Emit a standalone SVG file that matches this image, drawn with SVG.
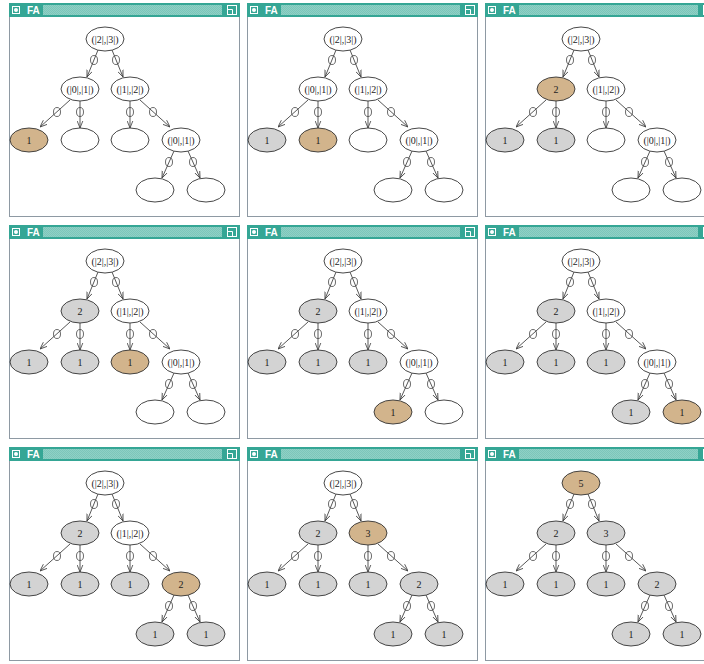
<svg xmlns="http://www.w3.org/2000/svg" xmlns:xlink="http://www.w3.org/1999/xlink" width="704" height="664" viewBox="0 0 704 664">
<style>
.frame{fill:#fff;stroke:#8e99a3;stroke-width:1}
.tb{fill:#35a695}
.hatch{fill:url(#chk)}
.ic{fill:none;stroke:#fff;stroke-width:1}
.ttl{font-family:"Liberation Sans",Arial,sans-serif;font-size:10px;font-weight:bold;fill:#fff}
.e{stroke:#444;stroke-width:0.9;fill:none;marker-end:url(#arr)}
.lbl{fill:none;stroke:#444;stroke-width:0.8}
.n{stroke:#333;stroke-width:0.9}
.w{fill:#fff}
.t{fill:#d2b48c}
.g{fill:#d3d3d3}
.nt{font-family:"Liberation Serif","Times New Roman",serif;font-size:10px;fill:#222;text-anchor:middle}
</style>
<defs>
<pattern id="chk" width="2" height="2" patternUnits="userSpaceOnUse"><rect width="2" height="2" fill="#8fd0c5"/><rect width="1" height="1" fill="#7cc6ba"/><rect x="1" y="1" width="1" height="1" fill="#7cc6ba"/></pattern>
<marker id="arr" viewBox="0 0 10 10" refX="10" refY="5" markerWidth="7" markerHeight="7" markerUnits="userSpaceOnUse" orient="auto"><path d="M0,1 L10,5 L0,9" fill="none" stroke="#444" stroke-width="1.2"/></marker>
<g id="chrome">
<rect class="frame" x="0.5" y="0.5" width="230" height="213"/>
<rect class="tb" x="0" y="0" width="231" height="14"/>
<rect class="ic" x="3.5" y="3.5" width="7" height="7"/>
<circle cx="7" cy="7" r="2" fill="#fff"/>
<text class="ttl" x="18" y="11">FA</text>
<rect class="hatch" x="34" y="2" width="179" height="10"/>
<rect class="ic" x="218.5" y="2.5" width="9" height="9"/>
<path class="ic" d="M218.5,6.5 H223.5 V11.5"/>
</g>
</defs>

<!-- Panel 1 -->
<g id="panel1" transform="translate(9,3)">
<use xlink:href="#chrome" href="#chrome"/>
<g id="p1-connectors">
<line class="e" x1="89" y1="47" x2="78" y2="74"/><ellipse class="lbl" cx="85" cy="57" rx="3.5" ry="4.5"/>
<line class="e" x1="103" y1="47" x2="114" y2="74"/><ellipse class="lbl" cx="107" cy="57" rx="3.5" ry="4.5"/>
<line class="e" x1="61" y1="97" x2="31" y2="124"/><ellipse class="lbl" cx="48" cy="109" rx="3.5" ry="4.5"/>
<line class="e" x1="71" y1="98" x2="71" y2="125"/><ellipse class="lbl" cx="71" cy="109" rx="3.5" ry="4.5"/>
<line class="e" x1="121" y1="98" x2="121" y2="125"/><ellipse class="lbl" cx="121" cy="109" rx="3.5" ry="4.5"/>
<line class="e" x1="131" y1="97" x2="161" y2="124"/><ellipse class="lbl" cx="144" cy="109" rx="3.5" ry="4.5"/>
<line class="e" x1="165" y1="148" x2="153" y2="175"/><ellipse class="lbl" cx="160" cy="159" rx="3.5" ry="4.5"/>
<line class="e" x1="179" y1="148" x2="191" y2="175"/><ellipse class="lbl" cx="184" cy="159" rx="3.5" ry="4.5"/>
</g>
<g id="p1-R"><ellipse class="n w" cx="96" cy="36" rx="19" ry="12"/><text class="nt" x="96" y="39.5">(|2|,|3|)</text></g>
<g id="p1-A"><ellipse class="n w" cx="71" cy="86" rx="19" ry="12"/><text class="nt" x="71" y="89.5">(|0|,|1|)</text></g>
<g id="p1-B"><ellipse class="n w" cx="121" cy="86" rx="19" ry="12"/><text class="nt" x="121" y="89.5">(|1|,|2|)</text></g>
<g id="p1-a1"><ellipse class="n t" cx="20" cy="137" rx="19" ry="12"/><text class="nt" x="20" y="140.5">1</text></g>
<g id="p1-a2"><ellipse class="n w" cx="71" cy="137" rx="19" ry="12"/></g>
<g id="p1-b1"><ellipse class="n w" cx="121" cy="137" rx="19" ry="12"/></g>
<g id="p1-b2"><ellipse class="n w" cx="172" cy="137" rx="19" ry="12"/><text class="nt" x="172" y="140.5">(|0|,|1|)</text></g>
<g id="p1-c1"><ellipse class="n w" cx="146" cy="187" rx="19" ry="12"/></g>
<g id="p1-c2"><ellipse class="n w" cx="197" cy="187" rx="19" ry="12"/></g>
</g>

<!-- Panel 2 -->
<g id="panel2" transform="translate(247,3)">
<use xlink:href="#chrome" href="#chrome"/>
<g id="p2-connectors">
<line class="e" x1="89" y1="47" x2="78" y2="74"/><ellipse class="lbl" cx="85" cy="57" rx="3.5" ry="4.5"/>
<line class="e" x1="103" y1="47" x2="114" y2="74"/><ellipse class="lbl" cx="107" cy="57" rx="3.5" ry="4.5"/>
<line class="e" x1="61" y1="97" x2="31" y2="124"/><ellipse class="lbl" cx="48" cy="109" rx="3.5" ry="4.5"/>
<line class="e" x1="71" y1="98" x2="71" y2="125"/><ellipse class="lbl" cx="71" cy="109" rx="3.5" ry="4.5"/>
<line class="e" x1="121" y1="98" x2="121" y2="125"/><ellipse class="lbl" cx="121" cy="109" rx="3.5" ry="4.5"/>
<line class="e" x1="131" y1="97" x2="161" y2="124"/><ellipse class="lbl" cx="144" cy="109" rx="3.5" ry="4.5"/>
<line class="e" x1="165" y1="148" x2="153" y2="175"/><ellipse class="lbl" cx="160" cy="159" rx="3.5" ry="4.5"/>
<line class="e" x1="179" y1="148" x2="191" y2="175"/><ellipse class="lbl" cx="184" cy="159" rx="3.5" ry="4.5"/>
</g>
<g id="p2-R"><ellipse class="n w" cx="96" cy="36" rx="19" ry="12"/><text class="nt" x="96" y="39.5">(|2|,|3|)</text></g>
<g id="p2-A"><ellipse class="n w" cx="71" cy="86" rx="19" ry="12"/><text class="nt" x="71" y="89.5">(|0|,|1|)</text></g>
<g id="p2-B"><ellipse class="n w" cx="121" cy="86" rx="19" ry="12"/><text class="nt" x="121" y="89.5">(|1|,|2|)</text></g>
<g id="p2-a1"><ellipse class="n g" cx="20" cy="137" rx="19" ry="12"/><text class="nt" x="20" y="140.5">1</text></g>
<g id="p2-a2"><ellipse class="n t" cx="71" cy="137" rx="19" ry="12"/><text class="nt" x="71" y="140.5">1</text></g>
<g id="p2-b1"><ellipse class="n w" cx="121" cy="137" rx="19" ry="12"/></g>
<g id="p2-b2"><ellipse class="n w" cx="172" cy="137" rx="19" ry="12"/><text class="nt" x="172" y="140.5">(|0|,|1|)</text></g>
<g id="p2-c1"><ellipse class="n w" cx="146" cy="187" rx="19" ry="12"/></g>
<g id="p2-c2"><ellipse class="n w" cx="197" cy="187" rx="19" ry="12"/></g>
</g>

<!-- Panel 3 -->
<g id="panel3" transform="translate(485,3)">
<use xlink:href="#chrome" href="#chrome"/>
<g id="p3-connectors">
<line class="e" x1="89" y1="47" x2="78" y2="74"/><ellipse class="lbl" cx="85" cy="57" rx="3.5" ry="4.5"/>
<line class="e" x1="103" y1="47" x2="114" y2="74"/><ellipse class="lbl" cx="107" cy="57" rx="3.5" ry="4.5"/>
<line class="e" x1="61" y1="97" x2="31" y2="124"/><ellipse class="lbl" cx="48" cy="109" rx="3.5" ry="4.5"/>
<line class="e" x1="71" y1="98" x2="71" y2="125"/><ellipse class="lbl" cx="71" cy="109" rx="3.5" ry="4.5"/>
<line class="e" x1="121" y1="98" x2="121" y2="125"/><ellipse class="lbl" cx="121" cy="109" rx="3.5" ry="4.5"/>
<line class="e" x1="131" y1="97" x2="161" y2="124"/><ellipse class="lbl" cx="144" cy="109" rx="3.5" ry="4.5"/>
<line class="e" x1="165" y1="148" x2="153" y2="175"/><ellipse class="lbl" cx="160" cy="159" rx="3.5" ry="4.5"/>
<line class="e" x1="179" y1="148" x2="191" y2="175"/><ellipse class="lbl" cx="184" cy="159" rx="3.5" ry="4.5"/>
</g>
<g id="p3-R"><ellipse class="n w" cx="96" cy="36" rx="19" ry="12"/><text class="nt" x="96" y="39.5">(|2|,|3|)</text></g>
<g id="p3-A"><ellipse class="n t" cx="71" cy="86" rx="19" ry="12"/><text class="nt" x="71" y="89.5">2</text></g>
<g id="p3-B"><ellipse class="n w" cx="121" cy="86" rx="19" ry="12"/><text class="nt" x="121" y="89.5">(|1|,|2|)</text></g>
<g id="p3-a1"><ellipse class="n g" cx="20" cy="137" rx="19" ry="12"/><text class="nt" x="20" y="140.5">1</text></g>
<g id="p3-a2"><ellipse class="n g" cx="71" cy="137" rx="19" ry="12"/><text class="nt" x="71" y="140.5">1</text></g>
<g id="p3-b1"><ellipse class="n w" cx="121" cy="137" rx="19" ry="12"/></g>
<g id="p3-b2"><ellipse class="n w" cx="172" cy="137" rx="19" ry="12"/><text class="nt" x="172" y="140.5">(|0|,|1|)</text></g>
<g id="p3-c1"><ellipse class="n w" cx="146" cy="187" rx="19" ry="12"/></g>
<g id="p3-c2"><ellipse class="n w" cx="197" cy="187" rx="19" ry="12"/></g>
</g>

<!-- Panel 4 -->
<g id="panel4" transform="translate(9,225)">
<use xlink:href="#chrome" href="#chrome"/>
<g id="p4-connectors">
<line class="e" x1="89" y1="47" x2="78" y2="74"/><ellipse class="lbl" cx="85" cy="57" rx="3.5" ry="4.5"/>
<line class="e" x1="103" y1="47" x2="114" y2="74"/><ellipse class="lbl" cx="107" cy="57" rx="3.5" ry="4.5"/>
<line class="e" x1="61" y1="97" x2="31" y2="124"/><ellipse class="lbl" cx="48" cy="109" rx="3.5" ry="4.5"/>
<line class="e" x1="71" y1="98" x2="71" y2="125"/><ellipse class="lbl" cx="71" cy="109" rx="3.5" ry="4.5"/>
<line class="e" x1="121" y1="98" x2="121" y2="125"/><ellipse class="lbl" cx="121" cy="109" rx="3.5" ry="4.5"/>
<line class="e" x1="131" y1="97" x2="161" y2="124"/><ellipse class="lbl" cx="144" cy="109" rx="3.5" ry="4.5"/>
<line class="e" x1="165" y1="148" x2="153" y2="175"/><ellipse class="lbl" cx="160" cy="159" rx="3.5" ry="4.5"/>
<line class="e" x1="179" y1="148" x2="191" y2="175"/><ellipse class="lbl" cx="184" cy="159" rx="3.5" ry="4.5"/>
</g>
<g id="p4-R"><ellipse class="n w" cx="96" cy="36" rx="19" ry="12"/><text class="nt" x="96" y="39.5">(|2|,|3|)</text></g>
<g id="p4-A"><ellipse class="n g" cx="71" cy="86" rx="19" ry="12"/><text class="nt" x="71" y="89.5">2</text></g>
<g id="p4-B"><ellipse class="n w" cx="121" cy="86" rx="19" ry="12"/><text class="nt" x="121" y="89.5">(|1|,|2|)</text></g>
<g id="p4-a1"><ellipse class="n g" cx="20" cy="137" rx="19" ry="12"/><text class="nt" x="20" y="140.5">1</text></g>
<g id="p4-a2"><ellipse class="n g" cx="71" cy="137" rx="19" ry="12"/><text class="nt" x="71" y="140.5">1</text></g>
<g id="p4-b1"><ellipse class="n t" cx="121" cy="137" rx="19" ry="12"/><text class="nt" x="121" y="140.5">1</text></g>
<g id="p4-b2"><ellipse class="n w" cx="172" cy="137" rx="19" ry="12"/><text class="nt" x="172" y="140.5">(|0|,|1|)</text></g>
<g id="p4-c1"><ellipse class="n w" cx="146" cy="187" rx="19" ry="12"/></g>
<g id="p4-c2"><ellipse class="n w" cx="197" cy="187" rx="19" ry="12"/></g>
</g>

<!-- Panel 5 -->
<g id="panel5" transform="translate(247,225)">
<use xlink:href="#chrome" href="#chrome"/>
<g id="p5-connectors">
<line class="e" x1="89" y1="47" x2="78" y2="74"/><ellipse class="lbl" cx="85" cy="57" rx="3.5" ry="4.5"/>
<line class="e" x1="103" y1="47" x2="114" y2="74"/><ellipse class="lbl" cx="107" cy="57" rx="3.5" ry="4.5"/>
<line class="e" x1="61" y1="97" x2="31" y2="124"/><ellipse class="lbl" cx="48" cy="109" rx="3.5" ry="4.5"/>
<line class="e" x1="71" y1="98" x2="71" y2="125"/><ellipse class="lbl" cx="71" cy="109" rx="3.5" ry="4.5"/>
<line class="e" x1="121" y1="98" x2="121" y2="125"/><ellipse class="lbl" cx="121" cy="109" rx="3.5" ry="4.5"/>
<line class="e" x1="131" y1="97" x2="161" y2="124"/><ellipse class="lbl" cx="144" cy="109" rx="3.5" ry="4.5"/>
<line class="e" x1="165" y1="148" x2="153" y2="175"/><ellipse class="lbl" cx="160" cy="159" rx="3.5" ry="4.5"/>
<line class="e" x1="179" y1="148" x2="191" y2="175"/><ellipse class="lbl" cx="184" cy="159" rx="3.5" ry="4.5"/>
</g>
<g id="p5-R"><ellipse class="n w" cx="96" cy="36" rx="19" ry="12"/><text class="nt" x="96" y="39.5">(|2|,|3|)</text></g>
<g id="p5-A"><ellipse class="n g" cx="71" cy="86" rx="19" ry="12"/><text class="nt" x="71" y="89.5">2</text></g>
<g id="p5-B"><ellipse class="n w" cx="121" cy="86" rx="19" ry="12"/><text class="nt" x="121" y="89.5">(|1|,|2|)</text></g>
<g id="p5-a1"><ellipse class="n g" cx="20" cy="137" rx="19" ry="12"/><text class="nt" x="20" y="140.5">1</text></g>
<g id="p5-a2"><ellipse class="n g" cx="71" cy="137" rx="19" ry="12"/><text class="nt" x="71" y="140.5">1</text></g>
<g id="p5-b1"><ellipse class="n g" cx="121" cy="137" rx="19" ry="12"/><text class="nt" x="121" y="140.5">1</text></g>
<g id="p5-b2"><ellipse class="n w" cx="172" cy="137" rx="19" ry="12"/><text class="nt" x="172" y="140.5">(|0|,|1|)</text></g>
<g id="p5-c1"><ellipse class="n t" cx="146" cy="187" rx="19" ry="12"/><text class="nt" x="146" y="190.5">1</text></g>
<g id="p5-c2"><ellipse class="n w" cx="197" cy="187" rx="19" ry="12"/></g>
</g>

<!-- Panel 6 -->
<g id="panel6" transform="translate(485,225)">
<use xlink:href="#chrome" href="#chrome"/>
<g id="p6-connectors">
<line class="e" x1="89" y1="47" x2="78" y2="74"/><ellipse class="lbl" cx="85" cy="57" rx="3.5" ry="4.5"/>
<line class="e" x1="103" y1="47" x2="114" y2="74"/><ellipse class="lbl" cx="107" cy="57" rx="3.5" ry="4.5"/>
<line class="e" x1="61" y1="97" x2="31" y2="124"/><ellipse class="lbl" cx="48" cy="109" rx="3.5" ry="4.5"/>
<line class="e" x1="71" y1="98" x2="71" y2="125"/><ellipse class="lbl" cx="71" cy="109" rx="3.5" ry="4.5"/>
<line class="e" x1="121" y1="98" x2="121" y2="125"/><ellipse class="lbl" cx="121" cy="109" rx="3.5" ry="4.5"/>
<line class="e" x1="131" y1="97" x2="161" y2="124"/><ellipse class="lbl" cx="144" cy="109" rx="3.5" ry="4.5"/>
<line class="e" x1="165" y1="148" x2="153" y2="175"/><ellipse class="lbl" cx="160" cy="159" rx="3.5" ry="4.5"/>
<line class="e" x1="179" y1="148" x2="191" y2="175"/><ellipse class="lbl" cx="184" cy="159" rx="3.5" ry="4.5"/>
</g>
<g id="p6-R"><ellipse class="n w" cx="96" cy="36" rx="19" ry="12"/><text class="nt" x="96" y="39.5">(|2|,|3|)</text></g>
<g id="p6-A"><ellipse class="n g" cx="71" cy="86" rx="19" ry="12"/><text class="nt" x="71" y="89.5">2</text></g>
<g id="p6-B"><ellipse class="n w" cx="121" cy="86" rx="19" ry="12"/><text class="nt" x="121" y="89.5">(|1|,|2|)</text></g>
<g id="p6-a1"><ellipse class="n g" cx="20" cy="137" rx="19" ry="12"/><text class="nt" x="20" y="140.5">1</text></g>
<g id="p6-a2"><ellipse class="n g" cx="71" cy="137" rx="19" ry="12"/><text class="nt" x="71" y="140.5">1</text></g>
<g id="p6-b1"><ellipse class="n g" cx="121" cy="137" rx="19" ry="12"/><text class="nt" x="121" y="140.5">1</text></g>
<g id="p6-b2"><ellipse class="n w" cx="172" cy="137" rx="19" ry="12"/><text class="nt" x="172" y="140.5">(|0|,|1|)</text></g>
<g id="p6-c1"><ellipse class="n g" cx="146" cy="187" rx="19" ry="12"/><text class="nt" x="146" y="190.5">1</text></g>
<g id="p6-c2"><ellipse class="n t" cx="197" cy="187" rx="19" ry="12"/><text class="nt" x="197" y="190.5">1</text></g>
</g>

<!-- Panel 7 -->
<g id="panel7" transform="translate(9,447)">
<use xlink:href="#chrome" href="#chrome"/>
<g id="p7-connectors">
<line class="e" x1="89" y1="47" x2="78" y2="74"/><ellipse class="lbl" cx="85" cy="57" rx="3.5" ry="4.5"/>
<line class="e" x1="103" y1="47" x2="114" y2="74"/><ellipse class="lbl" cx="107" cy="57" rx="3.5" ry="4.5"/>
<line class="e" x1="61" y1="97" x2="31" y2="124"/><ellipse class="lbl" cx="48" cy="109" rx="3.5" ry="4.5"/>
<line class="e" x1="71" y1="98" x2="71" y2="125"/><ellipse class="lbl" cx="71" cy="109" rx="3.5" ry="4.5"/>
<line class="e" x1="121" y1="98" x2="121" y2="125"/><ellipse class="lbl" cx="121" cy="109" rx="3.5" ry="4.5"/>
<line class="e" x1="131" y1="97" x2="161" y2="124"/><ellipse class="lbl" cx="144" cy="109" rx="3.5" ry="4.5"/>
<line class="e" x1="165" y1="148" x2="153" y2="175"/><ellipse class="lbl" cx="160" cy="159" rx="3.5" ry="4.5"/>
<line class="e" x1="179" y1="148" x2="191" y2="175"/><ellipse class="lbl" cx="184" cy="159" rx="3.5" ry="4.5"/>
</g>
<g id="p7-R"><ellipse class="n w" cx="96" cy="36" rx="19" ry="12"/><text class="nt" x="96" y="39.5">(|2|,|3|)</text></g>
<g id="p7-A"><ellipse class="n g" cx="71" cy="86" rx="19" ry="12"/><text class="nt" x="71" y="89.5">2</text></g>
<g id="p7-B"><ellipse class="n w" cx="121" cy="86" rx="19" ry="12"/><text class="nt" x="121" y="89.5">(|1|,|2|)</text></g>
<g id="p7-a1"><ellipse class="n g" cx="20" cy="137" rx="19" ry="12"/><text class="nt" x="20" y="140.5">1</text></g>
<g id="p7-a2"><ellipse class="n g" cx="71" cy="137" rx="19" ry="12"/><text class="nt" x="71" y="140.5">1</text></g>
<g id="p7-b1"><ellipse class="n g" cx="121" cy="137" rx="19" ry="12"/><text class="nt" x="121" y="140.5">1</text></g>
<g id="p7-b2"><ellipse class="n t" cx="172" cy="137" rx="19" ry="12"/><text class="nt" x="172" y="140.5">2</text></g>
<g id="p7-c1"><ellipse class="n g" cx="146" cy="187" rx="19" ry="12"/><text class="nt" x="146" y="190.5">1</text></g>
<g id="p7-c2"><ellipse class="n g" cx="197" cy="187" rx="19" ry="12"/><text class="nt" x="197" y="190.5">1</text></g>
</g>

<!-- Panel 8 -->
<g id="panel8" transform="translate(247,447)">
<use xlink:href="#chrome" href="#chrome"/>
<g id="p8-connectors">
<line class="e" x1="89" y1="47" x2="78" y2="74"/><ellipse class="lbl" cx="85" cy="57" rx="3.5" ry="4.5"/>
<line class="e" x1="103" y1="47" x2="114" y2="74"/><ellipse class="lbl" cx="107" cy="57" rx="3.5" ry="4.5"/>
<line class="e" x1="61" y1="97" x2="31" y2="124"/><ellipse class="lbl" cx="48" cy="109" rx="3.5" ry="4.5"/>
<line class="e" x1="71" y1="98" x2="71" y2="125"/><ellipse class="lbl" cx="71" cy="109" rx="3.5" ry="4.5"/>
<line class="e" x1="121" y1="98" x2="121" y2="125"/><ellipse class="lbl" cx="121" cy="109" rx="3.5" ry="4.5"/>
<line class="e" x1="131" y1="97" x2="161" y2="124"/><ellipse class="lbl" cx="144" cy="109" rx="3.5" ry="4.5"/>
<line class="e" x1="165" y1="148" x2="153" y2="175"/><ellipse class="lbl" cx="160" cy="159" rx="3.5" ry="4.5"/>
<line class="e" x1="179" y1="148" x2="191" y2="175"/><ellipse class="lbl" cx="184" cy="159" rx="3.5" ry="4.5"/>
</g>
<g id="p8-R"><ellipse class="n w" cx="96" cy="36" rx="19" ry="12"/><text class="nt" x="96" y="39.5">(|2|,|3|)</text></g>
<g id="p8-A"><ellipse class="n g" cx="71" cy="86" rx="19" ry="12"/><text class="nt" x="71" y="89.5">2</text></g>
<g id="p8-B"><ellipse class="n t" cx="121" cy="86" rx="19" ry="12"/><text class="nt" x="121" y="89.5">3</text></g>
<g id="p8-a1"><ellipse class="n g" cx="20" cy="137" rx="19" ry="12"/><text class="nt" x="20" y="140.5">1</text></g>
<g id="p8-a2"><ellipse class="n g" cx="71" cy="137" rx="19" ry="12"/><text class="nt" x="71" y="140.5">1</text></g>
<g id="p8-b1"><ellipse class="n g" cx="121" cy="137" rx="19" ry="12"/><text class="nt" x="121" y="140.5">1</text></g>
<g id="p8-b2"><ellipse class="n g" cx="172" cy="137" rx="19" ry="12"/><text class="nt" x="172" y="140.5">2</text></g>
<g id="p8-c1"><ellipse class="n g" cx="146" cy="187" rx="19" ry="12"/><text class="nt" x="146" y="190.5">1</text></g>
<g id="p8-c2"><ellipse class="n g" cx="197" cy="187" rx="19" ry="12"/><text class="nt" x="197" y="190.5">1</text></g>
</g>

<!-- Panel 9 -->
<g id="panel9" transform="translate(485,447)">
<use xlink:href="#chrome" href="#chrome"/>
<g id="p9-connectors">
<line class="e" x1="89" y1="47" x2="78" y2="74"/><ellipse class="lbl" cx="85" cy="57" rx="3.5" ry="4.5"/>
<line class="e" x1="103" y1="47" x2="114" y2="74"/><ellipse class="lbl" cx="107" cy="57" rx="3.5" ry="4.5"/>
<line class="e" x1="61" y1="97" x2="31" y2="124"/><ellipse class="lbl" cx="48" cy="109" rx="3.5" ry="4.5"/>
<line class="e" x1="71" y1="98" x2="71" y2="125"/><ellipse class="lbl" cx="71" cy="109" rx="3.5" ry="4.5"/>
<line class="e" x1="121" y1="98" x2="121" y2="125"/><ellipse class="lbl" cx="121" cy="109" rx="3.5" ry="4.5"/>
<line class="e" x1="131" y1="97" x2="161" y2="124"/><ellipse class="lbl" cx="144" cy="109" rx="3.5" ry="4.5"/>
<line class="e" x1="165" y1="148" x2="153" y2="175"/><ellipse class="lbl" cx="160" cy="159" rx="3.5" ry="4.5"/>
<line class="e" x1="179" y1="148" x2="191" y2="175"/><ellipse class="lbl" cx="184" cy="159" rx="3.5" ry="4.5"/>
</g>
<g id="p9-R"><ellipse class="n t" cx="96" cy="36" rx="19" ry="12"/><text class="nt" x="96" y="39.5">5</text></g>
<g id="p9-A"><ellipse class="n g" cx="71" cy="86" rx="19" ry="12"/><text class="nt" x="71" y="89.5">2</text></g>
<g id="p9-B"><ellipse class="n g" cx="121" cy="86" rx="19" ry="12"/><text class="nt" x="121" y="89.5">3</text></g>
<g id="p9-a1"><ellipse class="n g" cx="20" cy="137" rx="19" ry="12"/><text class="nt" x="20" y="140.5">1</text></g>
<g id="p9-a2"><ellipse class="n g" cx="71" cy="137" rx="19" ry="12"/><text class="nt" x="71" y="140.5">1</text></g>
<g id="p9-b1"><ellipse class="n g" cx="121" cy="137" rx="19" ry="12"/><text class="nt" x="121" y="140.5">1</text></g>
<g id="p9-b2"><ellipse class="n g" cx="172" cy="137" rx="19" ry="12"/><text class="nt" x="172" y="140.5">2</text></g>
<g id="p9-c1"><ellipse class="n g" cx="146" cy="187" rx="19" ry="12"/><text class="nt" x="146" y="190.5">1</text></g>
<g id="p9-c2"><ellipse class="n g" cx="197" cy="187" rx="19" ry="12"/><text class="nt" x="197" y="190.5">1</text></g>
</g>
</svg>
